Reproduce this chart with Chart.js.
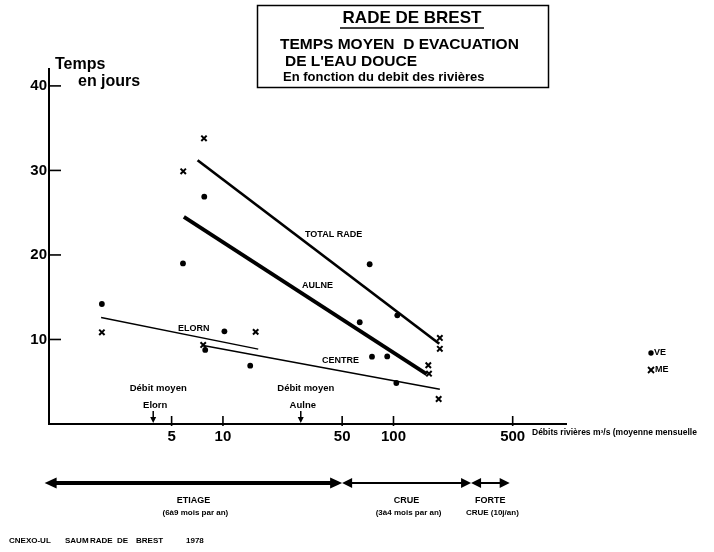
<!DOCTYPE html>
<html><head><meta charset="utf-8">
<script src="https://cdn.jsdelivr.net/npm/chart.js@4.4.0/dist/chart.umd.min.js"></script>
<style>html,body{margin:0;padding:0;background:#fff}canvas{display:block}</style>
</head><body>
<canvas id="c" width="714" height="552"></canvas>
<script>
// ---- data ----
const veX = [1.95, 5.83, 7.77, 7.87, 10.2, 14.45, 72.5, 105.3, 63.4, 74.8, 91.9, 103.9];
const veY = [14.2, 19.0, 26.9, 8.76, 10.97, 6.9, 18.9, 12.86, 12.04, 7.96, 8.0, 4.85];
const meX = [7.74, 5.85, 1.95, 15.55, 7.66, 187, 187, 160, 161.5, 184];
const meY = [33.8, 29.9, 10.85, 10.9, 9.35, 10.18, 8.9, 6.95, 5.95, 2.96];
const totalRadeX = [7.1, 185.6],  totalRadeY = [31.2, 9.5];
const aulneX = [5.9, 156.6],      aulneY = [24.5, 5.9];
const elornX = [1.93, 16.1],      elornY = [12.6, 8.85];
const centreX = [7.66, 187],      centreY = [9.3, 4.1];
const xTicks = [5, 10, 50, 100, 500];
const yTicks = [10, 20, 30, 40];
const debitMoyenNames = ['Elorn', 'Aulne'];
const debitMoyenX = [3.9, 28.6];
const regimeNames = ['ETIAGE', 'CRUE', 'FORTE'];
const regimeSubs = ['(6à9 mois par an)', '(3à4 mois par an)', 'CRUE (10j/an)'];
const regimeFrom = [0.9, 50, 285];
const regimeTo = [50, 285, 480];

const FONT = '"Liberation Sans", Arial, sans-serif';
const pts = (xs, ys) => xs.map((x, i) => ({x, y: ys[i]}));

const annot = {
  id: 'annot',
  afterDraw(chart) {
    const {ctx, chartArea: ca} = chart;
    const x = chart.scales.x, y = chart.scales.y;
    const line = (x1, y1, x2, y2) => { ctx.beginPath(); ctx.moveTo(x1, y1); ctx.lineTo(x2, y2); ctx.stroke(); };
    const text = (t, px, py, size, align) => {
      ctx.font = 'bold ' + size + 'px ' + FONT;
      ctx.textAlign = align || 'left'; ctx.textBaseline = 'middle';
      ctx.fillText(t, px, py);
    };
    ctx.save();
    ctx.fillStyle = '#000'; ctx.strokeStyle = '#000';
    // inward ticks
    ctx.lineWidth = 1.6;
    yTicks.forEach(v => { const py = y.getPixelForValue(v); line(ca.left, py, ca.left + 12, py); });
    xTicks.forEach(v => { const px = x.getPixelForValue(v); line(px, ca.bottom - 8, px, ca.bottom + 2); });

    // title box
    ctx.lineWidth = 1.5;
    ctx.strokeRect(257.5, 5.5, 291, 82);
    text('RADE DE BREST', 412, 18, 17, 'center');
    line(340, 28, 484, 28);
    text('TEMPS MOYEN  D EVACUATION', 280, 45, 15.5);
    text("DE L'EAU DOUCE", 285, 62, 15.5);
    text('En fonction du debit des rivières', 283, 77, 13);

    // y axis title
    text('Temps', 55, 65, 16);
    text('en jours', 78, 82, 16);

    // line labels
    text('TOTAL RADE', 305, 235, 9);
    text('AULNE', 302, 286, 9);
    text('CENTRE', 322, 361, 9);
    text('ELORN', 178, 329, 9);

    // débit moyen arrows
    debitMoyenX.forEach((v, i) => {
      const px = x.getPixelForValue(v);
      text('Débit moyen', px + 5, 388, 9.5, 'center');
      text(debitMoyenNames[i], px + 2, 405, 9.5, 'center');
      ctx.lineWidth = 1.5;
      line(px, 411, px, 419);
      ctx.beginPath(); ctx.moveTo(px - 3, 417); ctx.lineTo(px + 3, 417); ctx.lineTo(px, 423); ctx.closePath(); ctx.fill();
    });

    // x axis title
    text('Débits rivières m³/s (moyenne mensuelle', 532, 433, 8.5);

    // legend
    ctx.beginPath(); ctx.arc(651, 353, 2.7, 0, Math.PI * 2); ctx.fill();
    text('VE', 654, 353, 9);
    ctx.lineWidth = 1.8;
    line(648, 367, 654, 373); line(648, 373, 654, 367);
    text('ME', 655, 370, 9);

    // regime arrows
    const arrow = (x1, x2, yy, w, hl, hh) => {
      ctx.lineWidth = w;
      line(x1 + hl - 1, yy, x2 - hl + 1, yy);
      ctx.beginPath(); ctx.moveTo(x1, yy); ctx.lineTo(x1 + hl, yy - hh); ctx.lineTo(x1 + hl, yy + hh); ctx.closePath(); ctx.fill();
      ctx.beginPath(); ctx.moveTo(x2, yy); ctx.lineTo(x2 - hl, yy - hh); ctx.lineTo(x2 - hl, yy + hh); ctx.closePath(); ctx.fill();
    };
    regimeNames.forEach((n, i) => {
      const x1 = x.getPixelForValue(regimeFrom[i]), x2 = x.getPixelForValue(regimeTo[i]);
      if (i === 0) arrow(x1, x2, 483, 4, 12, 5.5); else arrow(x1, x2, 483, 2, 10, 5);
      const cx = (x1 + x2) / 2;
      text(n, cx, 501, 9, 'center');
      text(regimeSubs[i], cx + 2, 513, 8, 'center');
    });

    // footer
    text('CNEXO-UL', 9, 541, 8);
    text('SAUM', 65, 541, 8);
    text('RADE', 90, 541, 8);
    text('DE', 117, 541, 8);
    text('BREST', 136, 541, 8);
    text('1978', 186, 541, 8);
    ctx.restore();
  }
};

const lineDs = (label, xs, ys, w) => ({
  label, type: 'line', data: pts(xs, ys), borderColor: '#000', borderWidth: w,
  pointRadius: 0, fill: false, showLine: true, borderCapStyle: 'butt'
});

new Chart(document.getElementById('c'), {
  type: 'scatter',
  data: {
    datasets: [
      {label: 'VE', data: pts(veX, veY), pointStyle: 'circle', pointRadius: 2.9,
       backgroundColor: '#000', borderColor: '#000', borderWidth: 0},
      {label: 'ME', data: pts(meX, meY), pointStyle: 'crossRot', pointRadius: 3.8,
       borderColor: '#000', borderWidth: 2},
      lineDs('TOTAL RADE', totalRadeX, totalRadeY, 2.7),
      lineDs('AULNE', aulneX, aulneY, 3.8),
      lineDs('ELORN', elornX, elornY, 1.3),
      lineDs('CENTRE', centreX, centreY, 1.5)
    ]
  },
  options: {
    responsive: false, animation: false,
    layout: {padding: {top: 69, right: 148, left: 0, bottom: 0}},
    plugins: {legend: {display: false}, tooltip: {enabled: false}},
    scales: {
      x: {
        type: 'logarithmic', min: 0.955, max: 1027,
        afterBuildTicks: s => { s.ticks = xTicks.map(v => ({value: v})); },
        afterFit: s => { s.height = 128; },
        grid: {display: false, drawTicks: false},
        border: {display: true, color: '#000', width: 2},
        ticks: {color: '#000', font: {family: FONT, size: 15, weight: 'bold'}, padding: 4,
                autoSkip: false, maxRotation: 0, callback: v => String(v)}
      },
      y: {
        min: 0, max: 42,
        afterBuildTicks: s => { s.ticks = yTicks.map(v => ({value: v})); },
        afterFit: s => { s.width = 49; },
        grid: {display: false, drawTicks: false},
        border: {display: true, color: '#000', width: 2},
        ticks: {color: '#000', font: {family: FONT, size: 15, weight: 'bold'}, padding: 2,
                callback: v => String(v)}
      }
    }
  },
  plugins: [annot]
});
</script>
</body></html>
